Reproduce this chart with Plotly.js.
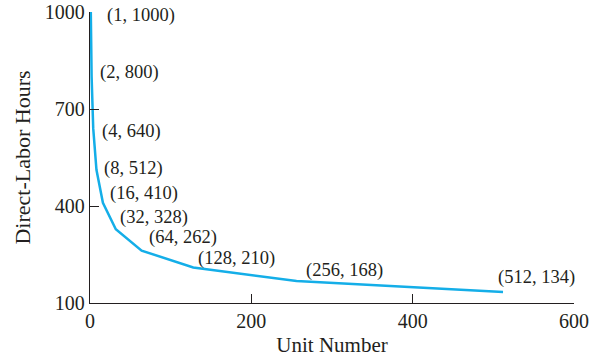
<!DOCTYPE html>
<html>
<head>
<meta charset="utf-8">
<script src="https://cdn.plot.ly/plotly-3.0.1.min.js"></script>
<style>html,body{margin:0;padding:0;background:#fff;}#chart{width:602px;height:359px;}</style>
</head>
<body>
<div id="chart"></div>
<script>
// Data
const unitNumbers = [1, 2, 4, 8, 16, 32, 64, 128, 256, 512];
const laborHours = [1000, 800, 640, 512, 410, 328, 262, 210, 168, 134];
const xTickValues = [0, 200, 400, 600];
const yTickValues = [100, 400, 700, 1000];

// Label offsets in pixels (style only; positive dy = up)
const labelDx = [14, 6, 7, 6, 5, 2, 5, 3, 7, -7];
const labelDy = [-3, 4, -3, 1, 9, 12, 13, 9, 11, 15];

const serif = '"Liberation Serif", "Times New Roman", serif';

const annotations = unitNumbers.map((u, i) => ({
  x: u, y: laborHours[i], xref: 'x', yref: 'y',
  text: '(' + u + ', ' + laborHours[i] + ')',
  showarrow: false, xanchor: 'left', yanchor: 'middle',
  xshift: labelDx[i], yshift: labelDy[i],
  font: {family: serif, size: 18.5, color: '#231f20'}
}));

const trace = {
  x: unitNumbers, y: laborHours, type: 'scatter', mode: 'lines',
  line: {color: '#14aee8', width: 2.5}, hoverinfo: 'none'
};

const layout = {
  width: 602, height: 359,
  margin: {l: 90, r: 28, t: 12, b: 56},
  paper_bgcolor: '#fff', plot_bgcolor: '#fff',
  showlegend: false,
  font: {family: serif, size: 20, color: '#231f20'},
  xaxis: {
    range: [0, 600], tickvals: xTickValues, ticktext: xTickValues.map(String),
    ticks: 'inside', ticklen: 9, tickcolor: '#231f20', tickwidth: 1,
    showline: true, linecolor: '#231f20', linewidth: 1.2,
    showgrid: false, zeroline: false,
    tickfont: {family: serif, size: 20, color: '#231f20'},
    title: {text: 'Unit Number', font: {family: serif, size: 21, color: '#231f20'}, standoff: 6}
  },
  yaxis: {
    range: [100, 1000], tickvals: yTickValues, ticktext: yTickValues.map(String),
    ticks: 'inside', ticklen: 9, tickcolor: '#231f20', tickwidth: 1,
    showline: true, linecolor: '#231f20', linewidth: 1.2,
    showgrid: false, zeroline: false,
    tickfont: {family: serif, size: 20, color: '#231f20'},
    title: {text: 'Direct-Labor Hours', font: {family: serif, size: 22, color: '#231f20'}, standoff: 8}
  },
  annotations: annotations
};

Plotly.newPlot('chart', [trace], layout, {displayModeBar: false, staticPlot: true});
</script>
</body>
</html>
